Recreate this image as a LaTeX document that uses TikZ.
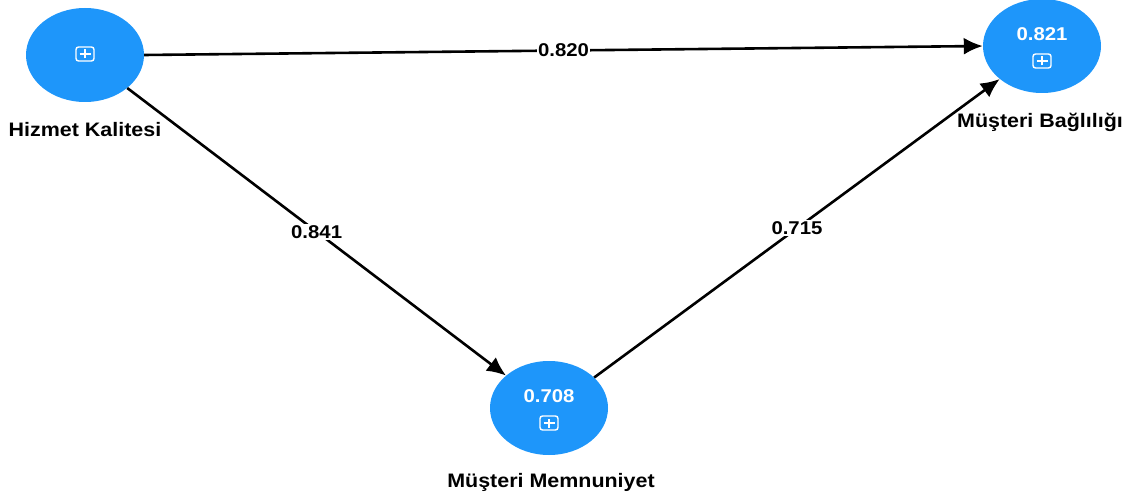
\documentclass[tikz,border=0pt]{standalone}
\usepackage{fontspec}
\setmainfont{Liberation Sans}
\usetikzlibrary{arrows.meta,shapes.geometric}
\definecolor{nodeblue}{RGB}{30,150,250}
\newcommand{\wide}[1]{\scalebox{1.1}[1]{#1}}
\tikzset{
  construct/.style={ellipse, fill=nodeblue, minimum width=118pt, minimum height=94pt, inner sep=0pt},
  lbl/.style={font=\fontsize{19.5}{22}\selectfont\bfseries, text=black, inner sep=0pt},
  coef/.style={font=\fontsize{18.5}{21}\selectfont\bfseries, fill=white, inner sep=1.5pt},
  rsq/.style={font=\fontsize{18.5}{21}\selectfont\bfseries, text=white, inner sep=0pt},
  path/.style={line width=2.6pt, -{Latex[length=19pt,width=17pt]}},
  plusbox/.style={draw=white, line width=1.4pt, rounded corners=2.5pt, minimum width=18pt, minimum height=14pt, inner sep=0pt}
}
\newcommand{\plusicon}[2]{%
  \node[plusbox] (#1) at #2 {};
  \draw[white, line width=1.4pt] ([xshift=-5.5pt]#1.center) -- ([xshift=5.5pt]#1.center)
    ([yshift=-4.5pt]#1.center) -- ([yshift=4.5pt]#1.center);
}
\begin{document}
\begin{tikzpicture}[x=1pt,y=-1pt]
\useasboundingbox (0,0) rectangle (1130,497);
\node[construct] (hk) at (85,55) {};
\node[construct] (mb) at (1042,46) {};
\node[construct] (mm) at (549,408) {};
\plusicon{hkp}{(85,54)}
\plusicon{mbp}{(1042,61)}
\plusicon{mmp}{(549,423)}
\node[rsq] (mbr) at (1042,34) {\wide{0.821}};
\node[rsq] (mmr) at (549,396) {\wide{0.708}};
\node[lbl] (hkl) at (85,130) {\wide{Hizmet Kalitesi}};
\node[lbl] (mbl) at (1040,122) {\wide{Müşteri Bağlılığı}};
\node[lbl] (mml) at (551,482) {\wide{Müşteri Memnuniyet}};
\draw[path] (hk.east) -- (mb.west) node[coef, pos=0.5] (c1) {\wide{0.820}};
\draw[path] (hk.-38) -- (mm.143) node[coef, pos=0.5] (c2) {\wide{0.841}};
\draw[path] (mm.34) -- (mb.218) node[coef, pos=0.5] (c3) {\wide{0.715}};
\end{tikzpicture}
\end{document}
